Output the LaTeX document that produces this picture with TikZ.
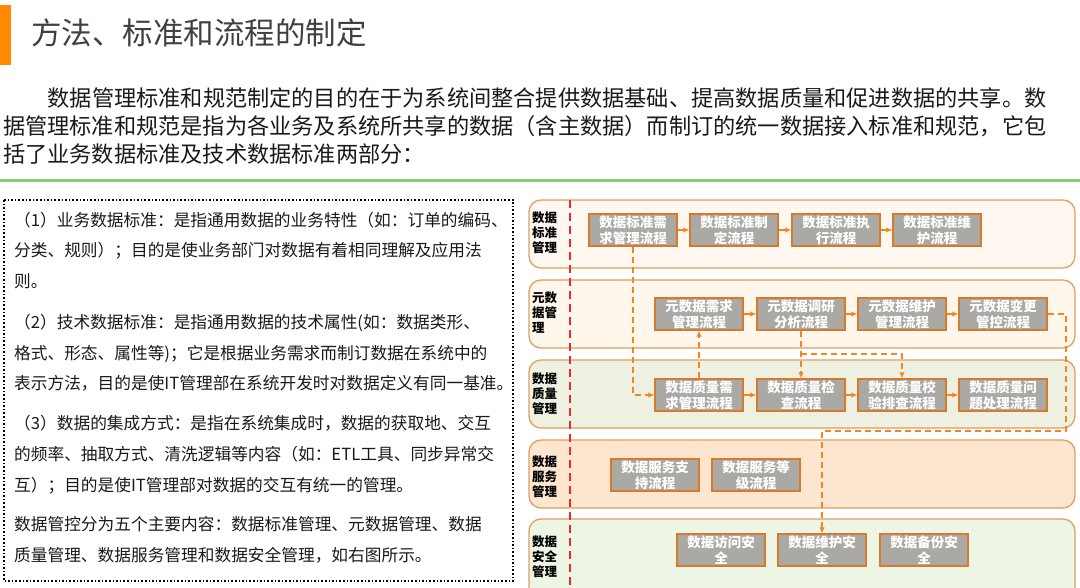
\documentclass[tikz,border=0pt]{standalone}
\usepackage{fontspec}
\setmainfont{Noto Sans CJK SC}
\usetikzlibrary{arrows.meta}
\usetikzlibrary{math, calc}
\definecolor{titlebar}{RGB}{255,138,0}
\definecolor{titlegray}{RGB}{64,64,64}
\definecolor{bodyblack}{RGB}{25,25,25}
\definecolor{greenrule}{RGB}{140,206,110}
\definecolor{lanebd}{RGB}{224,158,96}
\definecolor{boxbd}{RGB}{217,121,43}
\definecolor{boxgray}{RGB}{171,169,164}
\definecolor{floworange}{RGB}{245,133,31}
\definecolor{redline}{RGB}{240,40,40}
\definecolor{laneA}{RGB}{255,248,240}
\definecolor{laneB}{RGB}{255,246,236}
\definecolor{laneC}{RGB}{238,240,226}
\definecolor{laneD}{RGB}{253,230,208}
\definecolor{laneE}{RGB}{237,245,228}

\newcommand\bodyfont{\fontsize{22.2}{28}\selectfont}
\newcommand\notefont{\fontsize{16.7}{31}\selectfont}
\newcommand\procfont{\fontsize{13.5}{16}\selectfont\bfseries}
\newcommand\lanefont{\fontsize{12.5}{15}\selectfont\bfseries}

\tikzset{
  lane/.style={draw=lanebd, line width=1.3pt, rounded corners=12pt},
  proc/.style={draw=boxbd, fill=boxgray, line width=1.3pt, minimum width=88pt,
    minimum height=32pt, inner sep=0pt, text=white, align=center, font=\procfont},
  lanelabel/.style={anchor=west, inner sep=0pt, align=left, font=\lanefont, text=black},
  line/.style={anchor=base west, inner sep=0pt, text=bodyblack},
  flow/.style={-{Latex[length=6pt, width=5.5pt]}, draw=floworange, line width=1.4pt},
  link/.style={flow, line width=1.7pt, dash pattern=on 6pt off 4pt},
}

\begin{document}
\begin{tikzpicture}[x=1pt, y=-1pt]
\tikzmath{
\xl=529;
\xr=1075;
\bx=14;
}
\useasboundingbox (0,0) rectangle (1080,587);

%title
\fill[titlebar] (0,5) rectangle (11,65);
\node[line, font=\fontsize{30.5}{31}\selectfont, text=titlegray] (title) at (31,44.5) {方法、标准和流程的制定};

%intro
\node[line, font=\bodyfont] (intro1) at (47.4,106) {数据管理标准和规范制定的目的在于为系统间整合提供数据基础、提高数据质量和促进数据的共享。数};
\node[line, font=\bodyfont] (intro2) at (3,134.5) {据管理标准和规范是指为各业务及系统所共享的数据（含主数据）而制订的统一数据接入标准和规范，它包};
\node[line, font=\bodyfont] (intro3) at (3,162) {括了业务数据标准及技术数据标准两部分：};

\draw[greenrule, line width=3pt] (0,180) -- (1080,180);

%left notes
\draw[black, line width=1.6pt, dotted] (4,200) rectangle (513,581);
\node[line, font=\notefont] (n1) at (\bx,226.3) {（1）业务数据标准：是指通用数据的业务特性（如：订单的编码、};
\node[line, font=\notefont] (n2) at (\bx,256.3) {分类、规则）；目的是使业务部门对数据有着相同理解及应用法};
\node[line, font=\notefont] (n3) at (\bx,287.3) {则。};
\node[line, font=\notefont] (n4) at (\bx,328.3) {（2）技术数据标准：是指通用数据的技术属性(如：数据类形、};
\node[line, font=\notefont] (n5) at (\bx,359.3) {格式、形态、属性等)；它是根据业务需求而制订数据在系统中的};
\node[line, font=\notefont] (n6) at (\bx,389.3) {表示方法，目的是使IT管理部在系统开发时对数据定义有同一基准。};
\node[line, font=\notefont] (n7) at (\bx,429.3) {（3）数据的集成方式：是指在系统集成时，数据的获取地、交互};
\node[line, font=\notefont] (n8) at (\bx,460.3) {的频率、抽取方式、清洗逻辑等内容（如：ETL工具、同步异常交};
\node[line, font=\notefont] (n9) at (\bx,491.3) {互）；目的是使IT管理部对数据的交互有统一的管理。};
\node[line, font=\notefont] (n10) at (\bx,530.3) {数据管控分为五个主要内容：数据标准管理、元数据管理、数据};
\node[line, font=\notefont] (n11) at (\bx,561.3) {质量管理、数据服务管理和数据安全管理，如右图所示。};

%lanes
\filldraw[lane, fill=laneA] (\xl,200) rectangle (\xr,268);
\filldraw[lane, fill=laneB] (\xl,280) rectangle (\xr,348);
\filldraw[lane, fill=laneC] (\xl,360) rectangle (\xr,428);
\filldraw[lane, fill=laneD] (\xl,440) rectangle (\xr,508);
\filldraw[lane, fill=laneE] (\xl,519) rectangle (\xr,600);

\node[lanelabel] (lab1) at (532,233) {数据\\标准\\管理};
\node[lanelabel] (lab2) at (532,313) {元数\\据管\\理};
\node[lanelabel] (lab3) at (532,394) {数据\\质量\\管理};
\node[lanelabel] (lab4) at (532,477) {数据\\服务\\管理};
\node[lanelabel] (lab5) at (532,557) {数据\\安全\\管理};

\draw[redline, line width=2.4pt, dash pattern=on 8pt off 5pt] (570,200) -- (570,590);

%processes
\node[proc] (s1) at (633,230) {数据标准需\\求管理流程};
\node[proc] (s2) at (734,230) {数据标准制\\定流程};
\node[proc] (s3) at (836,230) {数据标准执\\行流程};
\node[proc] (s4) at (937,230) {数据标准维\\护流程};

\node[proc] (m1) at (699,314) {元数据需求\\管理流程};
\node[proc] (m2) at (801,314) {元数据调研\\分析流程};
\node[proc] (m3) at (902,314) {元数据维护\\管理流程};
\node[proc] (m4) at (1003,314) {元数据变更\\管控流程};

\node[proc] (q1) at (699,395) {数据质量需\\求管理流程};
\node[proc] (q2) at (801,395) {数据质量检\\查流程};
\node[proc] (q3) at (902,395) {数据质量校\\验排查流程};
\node[proc] (q4) at (1003,395) {数据质量问\\题处理流程};

\node[proc] (v1) at (655,475) {数据服务支\\持流程};
\node[proc] (v2) at (756,475) {数据服务等\\级流程};

\node[proc] (a1) at (721,550) {数据访问安\\全};
\node[proc] (a2) at (822,550) {数据维护安\\全};
\node[proc] (a3) at (924,550) {数据备份安\\全};

%flows
\draw[flow] (s1) -- (s2);
\draw[flow] (s2) -- (s3);
\draw[flow] (s3) -- (s4);
\draw[flow] (m1) -- (m2);
\draw[flow] (m2) -- (m3);
\draw[flow] (m3) -- (m4);
\draw[flow] (q1) -- (q2);
\draw[flow] (q2) -- (q3);
\draw[flow] (q3) -- (q4);

%links between lanes
\draw[link] (s1.south) |- (q1.west);
\draw[link] (q1.north) -- (m1.south);
\draw[link] (m2.south) -- (q2.north);
\coordinate (fork) at ($(m2.south)+(0,23)$);
\draw[link] (fork) -| (q3.north);
\coordinate (turn) at (1066,431);
\draw[link] (m4.east) -| (turn) -| (a2.north);
\end{tikzpicture}
\end{document}
